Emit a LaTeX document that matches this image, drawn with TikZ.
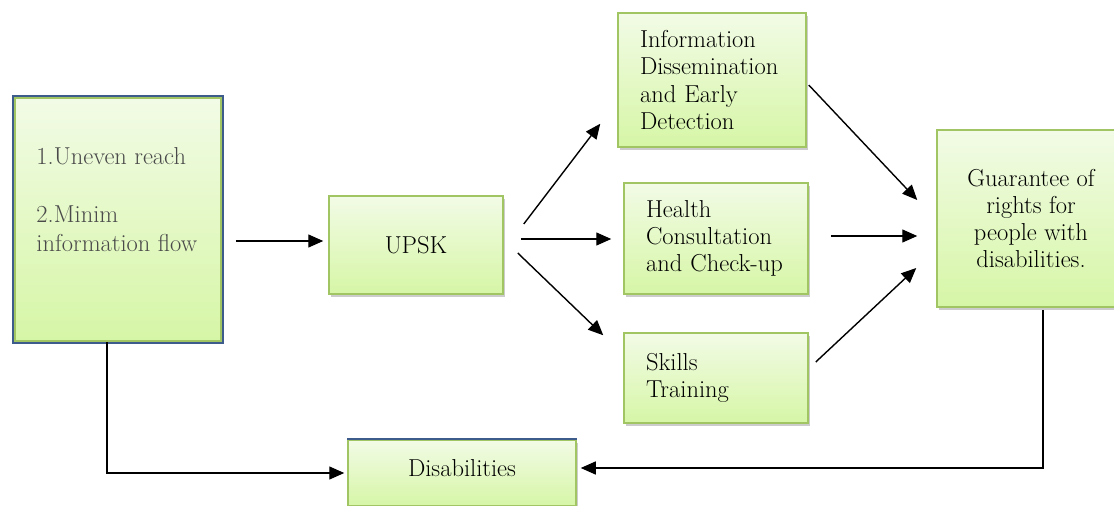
\documentclass[tikz,border=0pt]{standalone}
\usetikzlibrary{arrows.meta,shadows,positioning}
\definecolor{boxgreen}{HTML}{A2C563}
\definecolor{edgeblue}{HTML}{3D5C8C}
\definecolor{fillhi}{HTML}{F2FBE6}
\definecolor{filllo}{HTML}{D6F6A6}
\definecolor{txtgray}{HTML}{4A4A4A}
\tikzset{
  blk/.style={draw=boxgreen, line width=1.5pt, top color=fillhi, bottom color=filllo,
    drop shadow={opacity=0.4, shadow xshift=2pt, shadow yshift=-3pt},
    inner sep=0pt, font=\fontsize{24.5}{27.3}\selectfont, text=black},
  lblk/.style={blk, inner xsep=22pt, align=left},
  arr/.style={-{Triangle[length=15pt,width=13pt]}, line width=1.4pt},
}
\begin{document}
\begin{tikzpicture}[x=1pt,y=-1pt]
\useasboundingbox (0,0) rectangle (1114,506);
% boxes
\node[blk, preaction={draw=edgeblue, line width=6pt}, minimum width=206pt, minimum height=243pt] (prob) at (118,219.5) {};
\node[anchor=north west, inner sep=0pt, align=left, text=txtgray, font=\fontsize{24.5}{29}\selectfont] (probtxt)
  at ([xshift=22pt,yshift=-50pt]prob.north west) {1.Uneven reach\\[29pt]2.Minim\\information flow};
\node[blk, minimum width=174pt, minimum height=98pt] (upsk) at (416,245) {UPSK};
\node[lblk, text width=144pt, minimum height=134pt] (info) at (712,80) {Information\\Dissemination\\and Early\\Detection};
\node[lblk, text width=140pt, minimum height=111pt] (health) at (716,238.5) {Health\\Consultation\\and Check-up};
\node[lblk, text width=140pt, minimum height=90pt] (skills) at (716,378) {Skills\\Training};
\node[blk, align=center, minimum width=188pt, minimum height=177pt] (guar) at (1031,218.5) {Guarantee of\\rights for\\people with\\disabilities.};
\node[blk, minimum width=228pt, minimum height=66pt, text depth=10pt] (dis) at (462,473) {Disabilities};
\draw[edgeblue, line width=2pt] (dis.north west) -- (dis.north east);
% arrows
\draw[arr] ([xshift=14pt,yshift=4pt]prob.east |- upsk.west) -- ([xshift=-5pt,yshift=4pt]upsk.west);
\draw[arr] ([xshift=20pt,yshift=21pt]upsk.east) -- ([xshift=-17pt,yshift=24pt]info.south west);
\draw[arr] ([xshift=17pt,yshift=6pt]upsk.east) -- ([xshift=-12pt,yshift=6pt]upsk.east -| health.west);
\draw[arr] ([xshift=14pt,yshift=-8pt]upsk.east) -- ([xshift=-20pt,yshift=-3pt]skills.north west);
\draw[arr] ([xshift=2pt,yshift=-5pt]info.east) -- ([xshift=-19pt,yshift=18.5pt]guar.west);
\draw[arr] ([xshift=22pt,yshift=2.5pt]health.east) -- ([xshift=-19pt,yshift=2.5pt]health.east -| guar.west);
\draw[arr] ([xshift=7pt,yshift=16pt]skills.east) -- ([xshift=-20pt,yshift=-49.5pt]guar.west);
\draw[arr] ([xshift=-11pt]prob.south) |- ([xshift=-3pt]dis.west);
\draw[arr] ([xshift=12pt,yshift=-2pt]guar.south) |- ([xshift=4pt,yshift=5pt]dis.east);
\end{tikzpicture}
\end{document}
